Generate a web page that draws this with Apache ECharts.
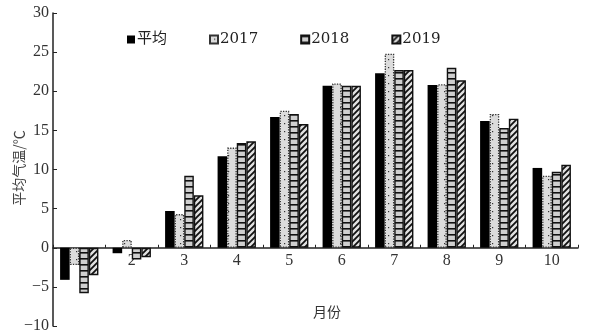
<!DOCTYPE html>
<html>
<head>
<meta charset="utf-8">
<script src="https://cdn.jsdelivr.net/npm/echarts@6/dist/echarts.min.js"></script>
<style>
  html, body { margin: 0; padding: 0; background: #fff; }
  #chart { width: 592px; height: 334px; }
</style>
</head>
<body>
<div id="chart"></div>
<script>
// Monthly mean air temperature (°C): long-term average and three years
const months = ['1', '2', '3', '4', '5', '6', '7', '8', '9', '10'];
const seriesNames = ['平均', '2017', '2018', '2019'];
const avgValues = [-4.1, -0.7, 4.7, 11.7, 16.7, 20.7, 22.3, 20.8, 16.2, 10.2];
const y2017 = [-2.2, 1.0, 4.3, 12.8, 17.5, 21.0, 24.8, 20.9, 17.1, 9.2];
const y2018 = [-5.8, -1.5, 9.2, 13.4, 17.1, 20.7, 22.7, 23.0, 15.3, 9.7];
const y2019 = [-3.5, -1.2, 6.7, 13.6, 15.8, 20.7, 22.7, 21.4, 16.5, 10.6];
const yTicks = { min: -10, max: 30, step: 5 };
const yTitle = '平均气温/℃';
const xTitle = '月份';

// Fill patterns drawn on small canvases
function makePattern(w, h, draw) {
  const c = document.createElement('canvas');
  c.width = w; c.height = h;
  draw(c.getContext('2d'), w, h);
  return { image: c, repeat: 'repeat' };
}
const dotPattern = makePattern(8, 8, (g, w, h) => {
  g.fillStyle = '#dcdcdc'; g.fillRect(0, 0, w, h);
  g.fillStyle = '#333'; g.fillRect(4, 3, 1.2, 1.2);
});
const stripePattern = makePattern(6, 6, (g, w, h) => {
  g.fillStyle = '#cfcfcf'; g.fillRect(0, 0, w, h);
  g.fillStyle = '#111'; g.fillRect(0, 0, w, 1.6);
});
const hatchPattern = makePattern(6, 6, (g, w, h) => {
  g.fillStyle = '#e2e2e2'; g.fillRect(0, 0, w, h);
  g.strokeStyle = '#111'; g.lineWidth = 1.8;
  g.beginPath();
  g.moveTo(-1, h + 1); g.lineTo(w + 1, -1);
  g.moveTo(-1 - w, h + 1); g.lineTo(1, -1);
  g.moveTo(w - 1, h + 1); g.lineTo(2 * w + 1, -1);
  g.stroke();
});

const serif = '"Liberation Serif", "DejaVu Serif", serif';
const wideSerif = '"DejaVu Serif", serif';
const cjk = '"Noto Sans CJK SC", sans-serif';

const styles = [
  { color: '#000', borderColor: '#000', borderWidth: 0 },
  { color: dotPattern, borderColor: '#333', borderWidth: 1.3, borderType: 'dotted' },
  { color: stripePattern, borderColor: '#111', borderWidth: 1.4 },
  { color: hatchPattern, borderColor: '#111', borderWidth: 1.4 }
];
const dataSets = [avgValues, y2017, y2018, y2019];

// Plot box; the category axis is shifted up so it sits on the zero line
const grid = { left: 53, right: 14, top: 13, bottom: 8 };
const plotHeight = 334 - grid.top - grid.bottom;
const zeroOffset = -plotHeight * (0 - yTicks.min) / (yTicks.max - yTicks.min);

const chart = echarts.init(document.getElementById('chart'), null, { renderer: 'canvas' });
chart.setOption({
  animation: false,
  backgroundColor: '#fff',
  grid: Object.assign({ containLabel: false, outerBoundsMode: 'none' }, grid),
  legend: {
    top: 27,
    left: 122,
    itemGap: 42,
    itemWidth: 8,
    itemHeight: 8,
    icon: 'rect',
    textStyle: { fontFamily: wideSerif + ', ' + cjk, fontSize: 15, color: '#222', padding: [0, 0, 0, -3] },
    data: seriesNames
  },
  xAxis: {
    type: 'category',
    data: months,
    offset: zeroOffset,
    axisLine: { onZero: false, lineStyle: { color: '#222', width: 1.5 } },
    axisTick: { show: true, inside: true, length: 3, lineStyle: { color: '#222' } },
    axisLabel: { fontFamily: serif, fontSize: 16, color: '#333', margin: 5 }
  },
  yAxis: {
    type: 'value',
    min: yTicks.min, max: yTicks.max, interval: yTicks.step,
    axisLine: { show: true, lineStyle: { color: '#222', width: 1.5 } },
    axisTick: { show: true, inside: true, length: 4, lineStyle: { color: '#222' } },
    splitLine: { show: false },
    axisLabel: {
      fontFamily: serif, fontSize: 16, color: '#333', margin: 4,
      formatter: v => String(v).replace('-', '\u2212')
    }
  },
  graphic: [
    {
      type: 'text',
      x: 19, y: 168,
      rotation: Math.PI / 2,
      style: { text: yTitle, font: '14px "Noto Sans CJK SC"', fill: '#444', align: 'center', verticalAlign: 'middle' }
    },
    {
      type: 'text',
      left: 313, top: 305,
      style: { text: xTitle, font: '14px "Noto Sans CJK SC"', fill: '#333' }
    }
  ],
  series: seriesNames.map((name, i) => ({
    name,
    type: 'bar',
    data: dataSets[i],
    barGap: '0%',
    barCategoryGap: '27%',
    itemStyle: styles[i]
  }))
});
</script>
</body>
</html>
